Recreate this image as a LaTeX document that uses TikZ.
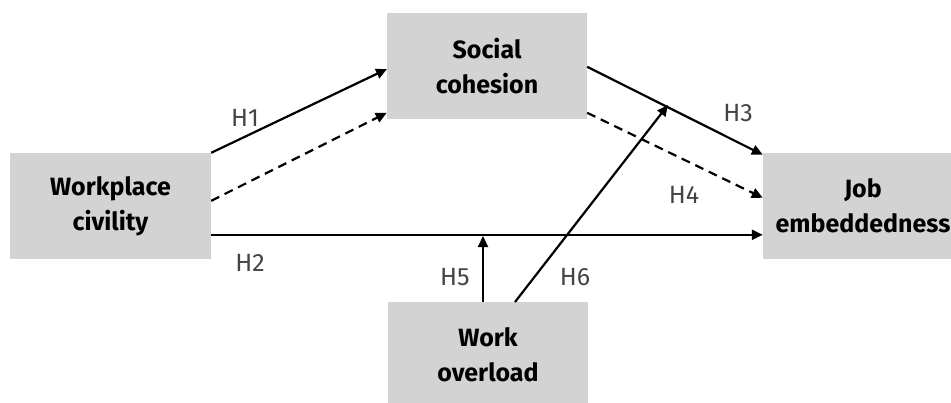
\documentclass[tikz,border=0pt]{standalone}
\usepackage{fontspec}
\setmainfont{Fira Sans}
\usetikzlibrary{arrows.meta}
\definecolor{boxgray}{HTML}{D3D3D3}
\definecolor{labgray}{HTML}{444444}
\begin{document}
\begin{tikzpicture}[x=1pt,y=-1pt,
  box/.style={fill=boxgray,draw=none,inner sep=0pt,align=center,
    font=\fontsize{25}{35}\selectfont\bfseries},
  conn/.style={line width=2.2pt,-{Triangle[length=11pt,width=10pt]}},
  dconn/.style={conn,dash pattern=on 9pt off 6pt},
  hlab/.style={text=labgray,font=\fontsize{25}{28}\selectfont,inner sep=0pt}]
\useasboundingbox (0,0) rectangle (951,402);
\node[box,minimum width=201pt,minimum height=106pt] (wc) at (110.5,206) {Workplace\\civility};
\node[box,minimum width=200pt,minimum height=106pt] (sc) at (487,66) {Social\\cohesion};
\node[box,minimum width=200pt,minimum height=106pt] (je) at (863,206) {Job\\embeddedness};
\node[box,minimum width=200pt,minimum height=106pt] (wo) at (488,355) {Work\\overload};
\coordinate (h5t) at (483,236);
\coordinate (h6t) at (668,105);
\draw[conn] (wc.north east) -- (387,69);
\draw[dconn] ([yshift=-48pt]wc.north east) -- ([yshift=-100pt]sc.north west);
\draw[conn] ([yshift=-82pt]wc.north east) -- ([yshift=-82pt]je.north west);
\draw[conn] ([yshift=-54pt]sc.north east) -- ([yshift=-2pt]je.north west);
\draw[dconn] ([yshift=-100pt]sc.north east) -- ([yshift=-45pt]je.north west);
\draw[conn] (wo.north west -| h5t) -- (h5t);
\draw[conn] (515,302) -- (h6t);
\node[hlab] (l1) at (245,118) {H1};
\node[hlab] (l2) at (250,263) {H2};
\node[hlab] (l3) at (738,113) {H3};
\node[hlab] (l4) at (684,195) {H4};
\node[hlab] (l5) at (455,277) {H5};
\node[hlab] (l6) at (575,277) {H6};
\end{tikzpicture}
\end{document}
